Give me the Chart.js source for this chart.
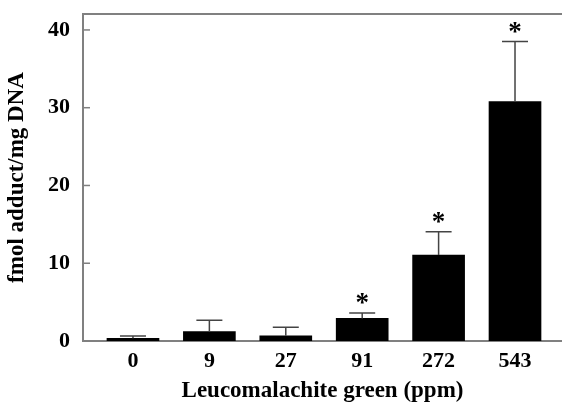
<!DOCTYPE html>
<html>
<head>
<meta charset="utf-8">
<script src="https://cdn.jsdelivr.net/npm/chart.js@4/dist/chart.umd.min.js"></script>
<style>
  html, body { margin: 0; padding: 0; background: #fff; }
  #wrap { width: 562px; height: 405px; }
</style>
</head>
<body>
<div id="wrap"><canvas id="myChart" width="562" height="405"></canvas></div>
<script>
// data
const doses = ['0', '9', '27', '91', '272', '543'];
const adduct = [0.35, 1.2, 0.68, 2.9, 11.05, 30.8];
const errTop = [0.64, 2.66, 1.76, 3.6, 14.05, 38.5];
const marks = ['', '', '', '*', '*', '*'];
const yTicks = [0, 10, 20, 30, 40];

const axisGray = '#808080';
const serif = "'Liberation Serif', 'Times New Roman', serif";

// error bars, inside tick marks, stars and the top frame line
const extras = {
  id: 'extras',
  afterDatasetsDraw(chart) {
    const ctx = chart.ctx;
    const x = chart.scales.x, y = chart.scales.y;
    const area = chart.chartArea;
    ctx.save();

    // error bars (upper only)
    ctx.strokeStyle = '#444';
    ctx.lineWidth = 1.5;
    adduct.forEach((v, i) => {
      const px = x.getPixelForValue(i);
      const top = y.getPixelForValue(errTop[i]);
      ctx.beginPath();
      ctx.moveTo(px, y.getPixelForValue(v));
      ctx.lineTo(px, top);
      ctx.moveTo(px - 13, top);
      ctx.lineTo(px + 13, top);
      ctx.stroke();
    });

    // significance stars
    ctx.fillStyle = '#000';
    ctx.font = 'bold 27px ' + serif;
    ctx.textAlign = 'center';
    ctx.textBaseline = 'middle';
    marks.forEach((m, i) => {
      if (!m) return;
      ctx.fillText(m, x.getPixelForValue(i), y.getPixelForValue(errTop[i]) - 9);
    });

    // tick marks pointing into the plot
    ctx.strokeStyle = axisGray;
    ctx.lineWidth = 1.5;
    yTicks.forEach(t => {
      const py = y.getPixelForValue(t);
      ctx.beginPath();
      ctx.moveTo(area.left, py);
      ctx.lineTo(area.left + 7, py);
      ctx.stroke();
    });

    // top frame line
    ctx.lineWidth = 2;
    ctx.beginPath();
    ctx.moveTo(area.left, area.top);
    ctx.lineTo(area.right, area.top);
    ctx.stroke();
    ctx.restore();
  }
};

const config = {
  type: 'bar',
  data: {
    datasets: [{
      data: adduct.map((v, i) => ({ x: i, y: v })),
      backgroundColor: '#000',
      borderWidth: 0,
      barThickness: 52
    }]
  },
  options: {
    responsive: false,
    animation: false,
    layout: { padding: { left: 0, right: 0, top: 14, bottom: 0 } },
    plugins: {
      legend: { display: false },
      tooltip: { enabled: false }
    },
    scales: {
      x: {
        type: 'linear',
        offset: false,
        min: -0.654,
        max: 5.615,
        afterBuildTicks: (scale) => {
          scale.ticks = doses.map((d, i) => ({ value: i }));
        },
        afterFit: (scale) => { scale.height = 64; },
        grid: { display: false, drawTicks: false },
        border: { display: true, color: axisGray, width: 2 },
        ticks: {
          autoSkip: false,
          maxRotation: 0,
          padding: 7,
          color: '#000',
          font: { family: serif, size: 22, weight: 'bold' },
          callback: (v) => doses[v]
        },
        title: {
          display: true,
          text: 'Leucomalachite green (ppm)',
          color: '#000',
          font: { family: serif, size: 23, weight: 'bold' },
          padding: { top: 4, bottom: 0 }
        }
      },
      y: {
        min: 0,
        max: 42.05,
        afterBuildTicks: (scale) => {
          scale.ticks = yTicks.map(v => ({ value: v }));
        },
        afterFit: (scale) => {
          scale.width = 83;
          scale.paddingTop = 0;
          scale.paddingBottom = 0;
        },
        grid: { display: false, drawTicks: false },
        border: { display: true, color: axisGray, width: 2 },
        ticks: {
          padding: 13,
          color: '#000',
          font: { family: serif, size: 22, weight: 'bold' }
        },
        title: {
          display: true,
          text: 'fmol adduct/mg DNA',
          color: '#000',
          font: { family: serif, size: 23, weight: 'bold' },
          padding: { top: 3, bottom: 0 }
        }
      }
    }
  },
  plugins: [extras]
};

const myChart = new Chart(document.getElementById('myChart').getContext('2d'), config);
</script>
</body>
</html>
